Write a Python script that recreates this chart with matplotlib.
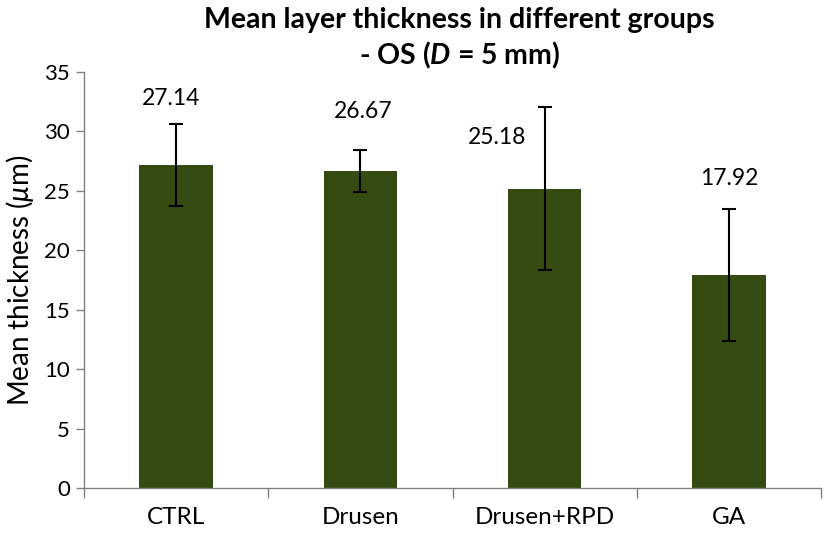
import matplotlib
matplotlib.use("Agg")
import matplotlib.pyplot as plt
import numpy as np

categories = ["CTRL", "Drusen", "Drusen+RPD", "GA"]
means = [27.14, 26.67, 25.18, 17.92]
errors = [3.45, 1.73, 6.85, 5.55]
value_labels = ["27.14", "26.67", "25.18", "17.92"]
yticks = [0, 5, 10, 15, 20, 25, 30, 35]

plt.rcParams['font.family'] = ['Lato', 'DejaVu Sans']
plt.rcParams['mathtext.fontset'] = 'custom'
plt.rcParams['mathtext.rm'] = 'Lato'
plt.rcParams['mathtext.it'] = 'Lato:italic'
plt.rcParams['mathtext.bf'] = 'Lato:bold'
plt.rcParams['mathtext.bfit'] = 'Lato:bold:italic'

fig = plt.figure(figsize=(8.26, 5.35), dpi=100)
ax = fig.add_axes([84/826, 1-488/535, (821-84)/826, (488-72)/535])

x = np.arange(len(categories))
ax.bar(x, means, width=0.40, color='#344c12', zorder=2)
ax.errorbar(x, means, yerr=errors, fmt='none', ecolor='black', elinewidth=1.5,
            capsize=5, capthick=1.5, zorder=3)

# label offsets (points) relative to top of error bar
offsets = [(-4, 19), (2, 28), (-34, -22), (0, 22)]
for i, (m, e, lab) in enumerate(zip(means, errors, value_labels)):
    ax.annotate(lab, xy=(x[i], m + e), xytext=offsets[i], textcoords='offset points',
                ha='center', va='center', fontsize=16.5)

ax.set_xlim(-0.5, len(categories) - 0.5)
ax.set_ylim(0, 35)
ax.set_yticks(yticks)
ax.set_yticklabels([str(t) for t in yticks], fontsize=16)
ax.set_xticks(x)
ax.set_xticklabels(categories, fontsize=17.5)
ax.tick_params(axis='x', which='major', length=0, pad=14)
ax.set_xticks(np.arange(-0.5, len(categories), 1.0), minor=True)
ax.tick_params(axis='x', which='minor', length=7, width=1, color='#808080', direction='out')
ax.tick_params(axis='y', length=6, width=1, color='#808080', direction='out', pad=4)

for s in ['top', 'right']:
    ax.spines[s].set_visible(False)
for s in ['left', 'bottom']:
    ax.spines[s].set_color('#808080')
    ax.spines[s].set_linewidth(1)

ax.set_ylabel(r'Mean thickness ($\mu$m)', fontsize=20, labelpad=6)

fig.text(0.556, 0.962, 'Mean layer thickness in different groups', ha='center', va='center',
         fontsize=20.5, fontweight='bold')
fig.text(0.556, 0.897, r'- OS ($\mathbfit{D}$ = 5 mm)', ha='center', va='center',
         fontsize=20.5, fontweight='bold')

fig.savefig('out.png', dpi=100)
